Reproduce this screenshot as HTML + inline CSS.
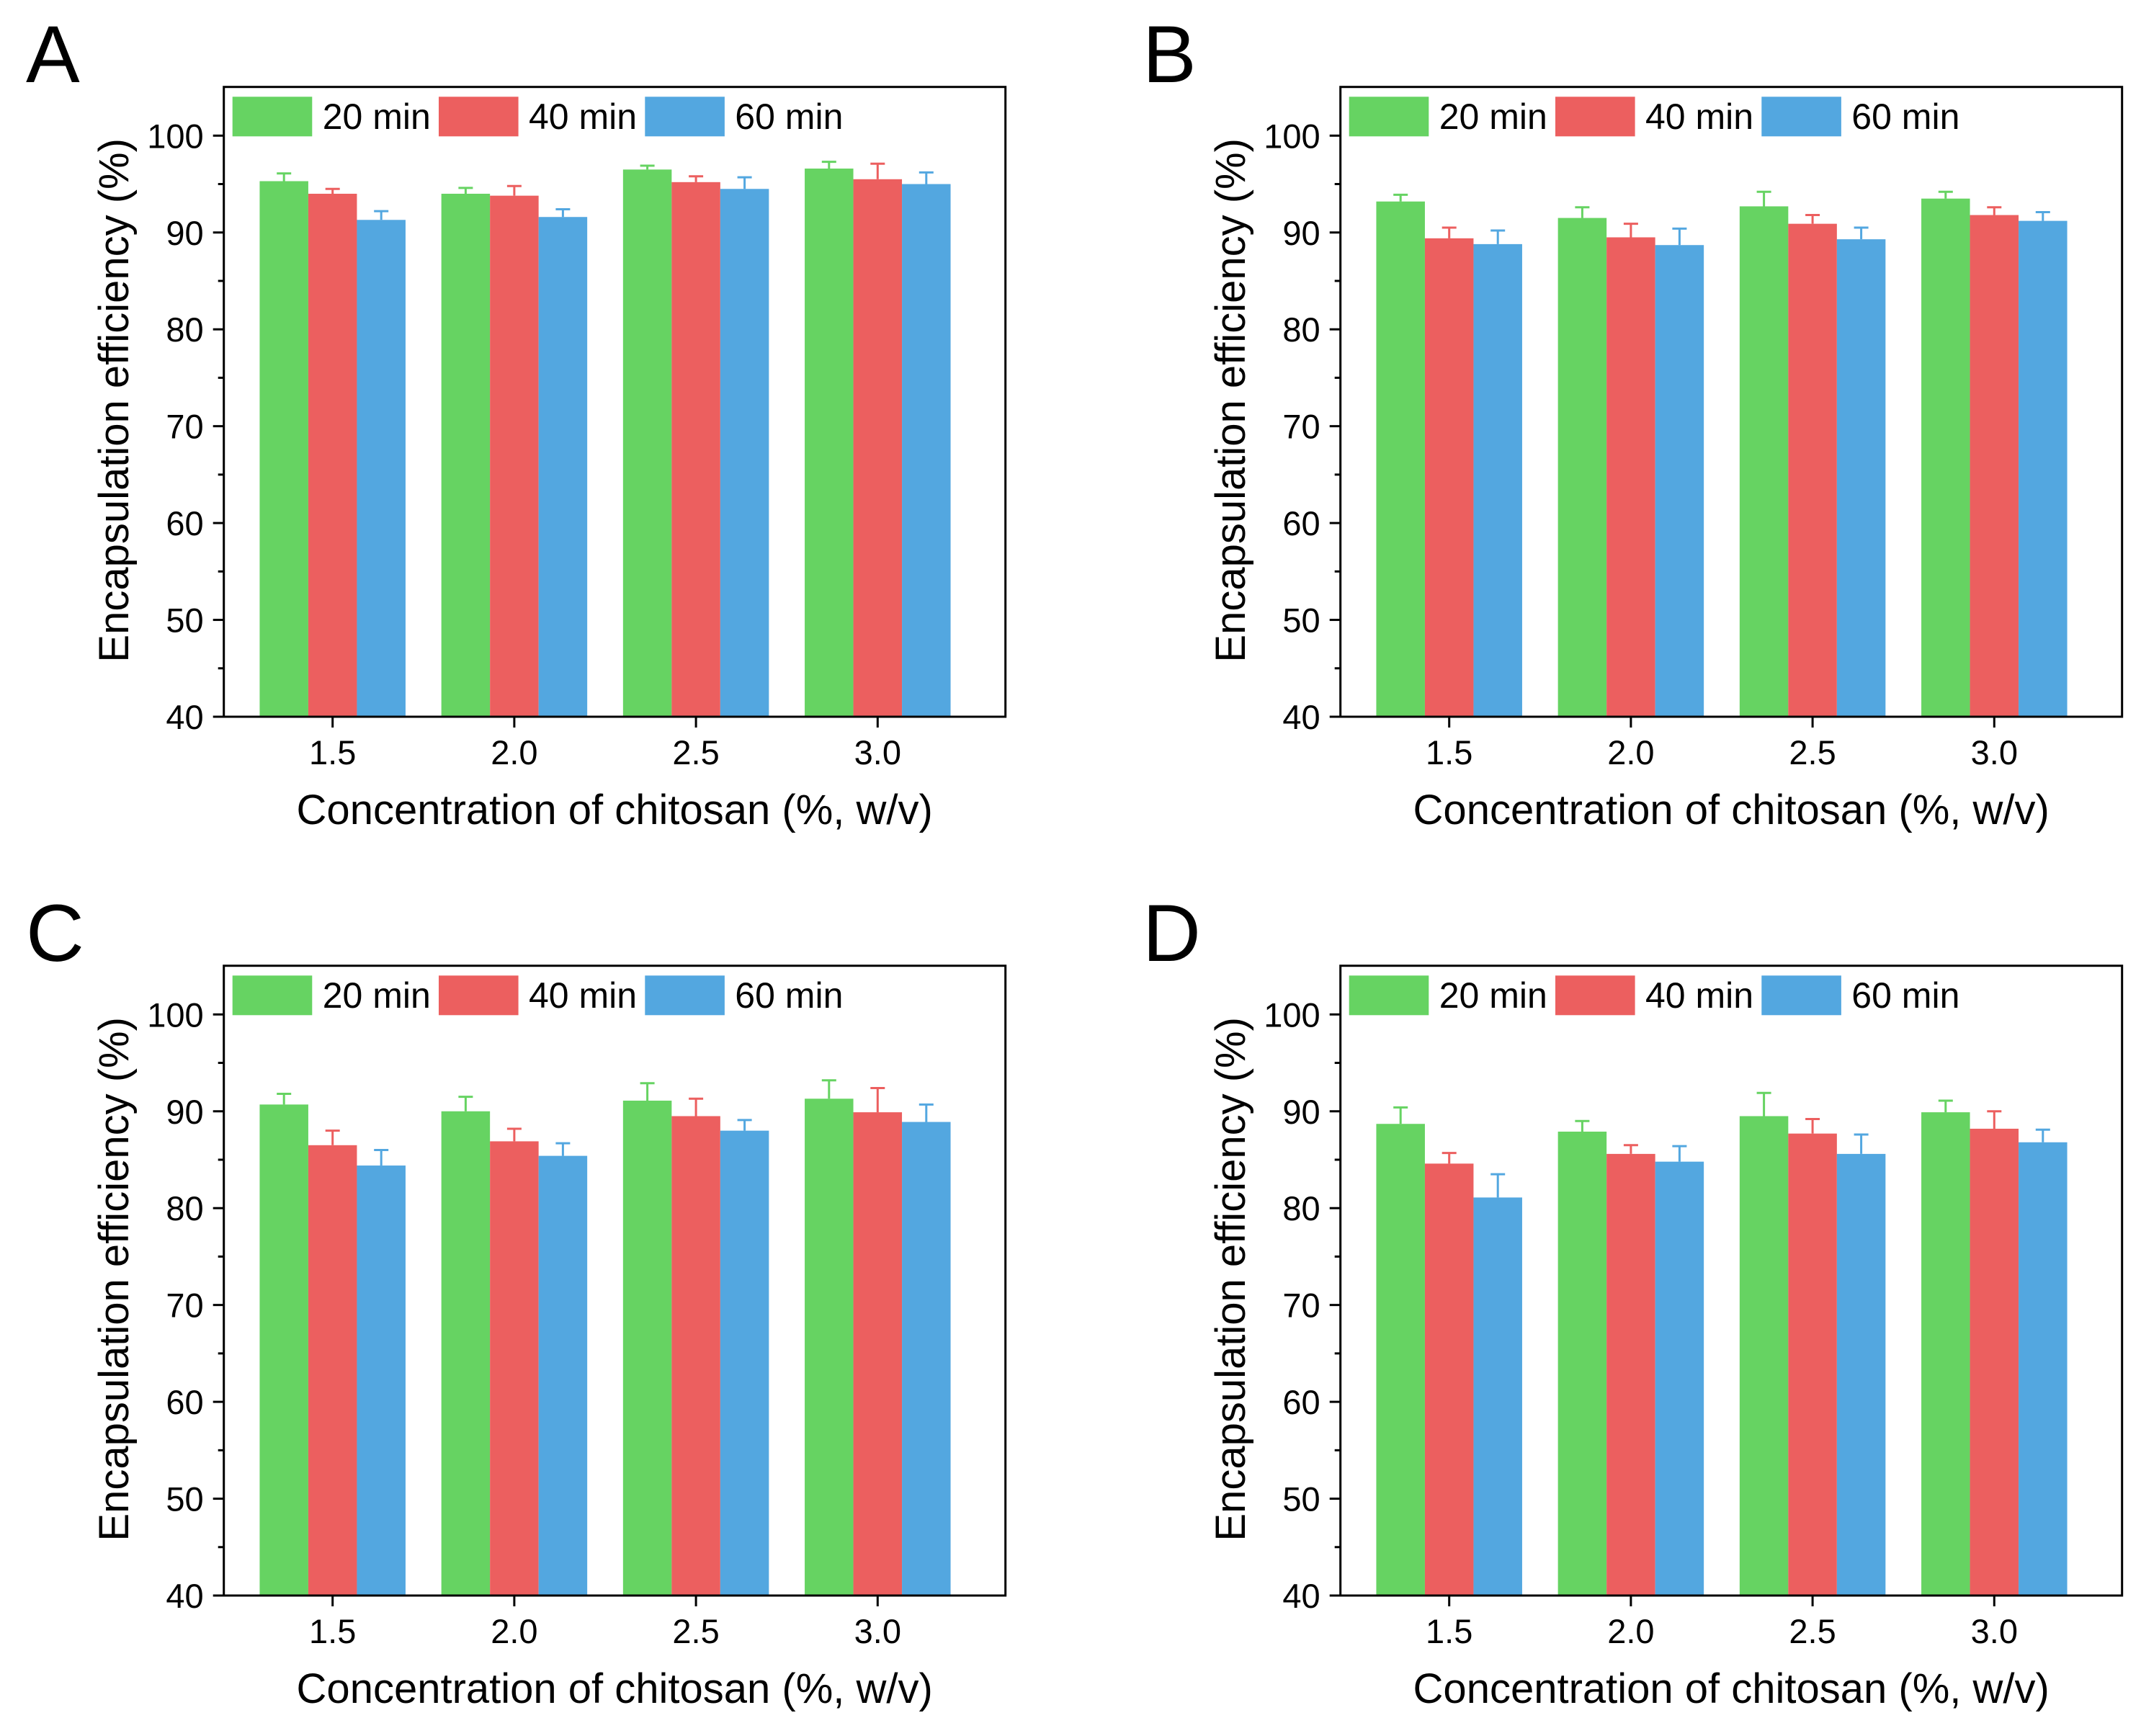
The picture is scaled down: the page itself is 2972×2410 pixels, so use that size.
<!DOCTYPE html>
<html><head><meta charset="utf-8"><style>
html,body{margin:0;padding:0;background:#fff}
svg{display:block}
text{font-family:"Liberation Sans",Arial,sans-serif;fill:#000}
</style></head><body>
<svg id="fig" width="2972" height="2410" viewBox="0 0 2972 2410" xmlns="http://www.w3.org/2000/svg"></svg>
<script>
const categories = ["1.5","2.0","2.5","3.0"];
const seriesNames = ["20 min","40 min","60 min"];
const yTicks = [40,50,60,70,80,90,100];
const panelLetters = ["A","B","C","D"];
// values per panel: [20 min, 40 min, 60 min]
const panelA20 = [95.3,94.0,96.5,96.6], panelA40 = [94.0,93.8,95.2,95.5], panelA60 = [91.3,91.6,94.5,95.0];
const panelA20e = [0.8,0.6,0.4,0.7], panelA40e = [0.5,1.0,0.6,1.6], panelA60e = [0.9,0.8,1.2,1.2];
const panelB20 = [93.2,91.5,92.7,93.5], panelB40 = [89.4,89.5,90.9,91.8], panelB60 = [88.8,88.7,89.3,91.2];
const panelB20e = [0.7,1.1,1.5,0.7], panelB40e = [1.1,1.4,0.9,0.8], panelB60e = [1.4,1.7,1.2,0.9];
const panelC20 = [90.7,90.0,91.1,91.3], panelC40 = [86.5,86.9,89.5,89.9], panelC60 = [84.4,85.4,88.0,88.9];
const panelC20e = [1.1,1.5,1.8,1.9], panelC40e = [1.5,1.3,1.8,2.5], panelC60e = [1.6,1.3,1.1,1.8];
const panelD20 = [88.7,87.9,89.5,89.9], panelD40 = [84.6,85.6,87.7,88.2], panelD60 = [81.1,84.8,85.6,86.8];
const panelD20e = [1.7,1.1,2.4,1.2], panelD40e = [1.1,0.9,1.5,1.8], panelD60e = [2.4,1.6,2.0,1.3];

const panels = [
  {vals:[panelA20,panelA40,panelA60], errs:[panelA20e,panelA40e,panelA60e]},
  {vals:[panelB20,panelB40,panelB60], errs:[panelB20e,panelB40e,panelB60e]},
  {vals:[panelC20,panelC40,panelC60], errs:[panelC20e,panelC40e,panelC60e]},
  {vals:[panelD20,panelD40,panelD60], errs:[panelD20e,panelD40e,panelD60e]}
];
const colors = ["#66d362","#ec5f5f","#53a7e0"];
const NS = "http://www.w3.org/2000/svg";
const svg = document.getElementById("fig");
function mk(tag, attrs, parent){const e=document.createElementNS(NS,tag);for(const k in attrs)e.setAttribute(k,attrs[k]);parent.appendChild(e);return e;}

panels.forEach((p, pi) => {
  const dx = (pi%2)*1550, dy = Math.floor(pi/2)*1220;
  const L = 310.7+dx, R = 1395.7+dx, T = 120.7+dy, B = 995+dy;
  const y = v => B - (v-40)*(B-(188.3+dy))/60;
  const x = i => 461.7+dx + i*252.2;
  const bw = 67.5;
  const g = mk("g", {}, svg);
  
  

  const letter = mk("text", {x:36+dx, y:114+dy, "font-size":112}, g);
  letter.textContent = panelLetters[pi];
  
  

  p.vals.forEach((arr, si) => {
    arr.forEach((v, ci) => {
      const x0 = x(ci) - 1.5*bw + si*bw;
      const r = mk("rect", {x:x0, y:y(v), width:bw, height:B-y(v), fill:colors[si]}, g);
      
      
      const top = y(v + p.errs[si][ci]);
      const cx = x0 + bw/2;
      const eb = mk("path", {d:`M${cx},${y(v)}V${top}M${cx-10},${top}H${cx+10}`, stroke:colors[si], "stroke-width":3, fill:"none"}, g);
      
      
    });
  });

  const fr = mk("rect", {x:L, y:T, width:R-L, height:B-T, fill:"none", stroke:"#000", "stroke-width":3}, g);
  
  

  yTicks.forEach(t => {
    mk("line", {x1:L-15, x2:L, y1:y(t), y2:y(t), stroke:"#000", "stroke-width":3}, g);
    if (t < 100) mk("line", {x1:L-8, x2:L, y1:y(t+5), y2:y(t+5), stroke:"#000", "stroke-width":3}, g);
    const tl = mk("text", {x:L-28, y:y(t)+17, "font-size":47, "text-anchor":"end"}, g);
    tl.textContent = t;
    
    
  });
  categories.forEach((c, ci) => {
    mk("line", {x1:x(ci), x2:x(ci), y1:B, y2:B+15, stroke:"#000", "stroke-width":3}, g);
    const tl = mk("text", {x:x(ci), y:1061+dy, "font-size":47, "text-anchor":"middle"}, g);
    tl.textContent = c;
    
    
  });
  const xt = mk("text", {x:(L+R)/2, y:1144+dy, "font-size":58, "text-anchor":"middle"}, g);
  xt.textContent = "Concentration of chitosan (%, w/v)";
  
  
  const yt = mk("text", {x:0, y:0, "font-size":58, "text-anchor":"middle", transform:`translate(${178+dx},${(T+B)/2 - 2}) rotate(-90)`}, g);
  yt.textContent = "Encapsulation efficiency (%)";
  
  

  seriesNames.forEach((n, si) => {
    const lx = 322.7 + dx + si*286.3;
    const sw = mk("rect", {x:lx, y:134.3+dy, width:110.6, height:55, fill:colors[si]}, g);
    
    
    const lt = mk("text", {x:lx+125, y:179+dy, "font-size":50}, g);
    lt.textContent = n;
    
    
  });
});
</script>
</body></html>
